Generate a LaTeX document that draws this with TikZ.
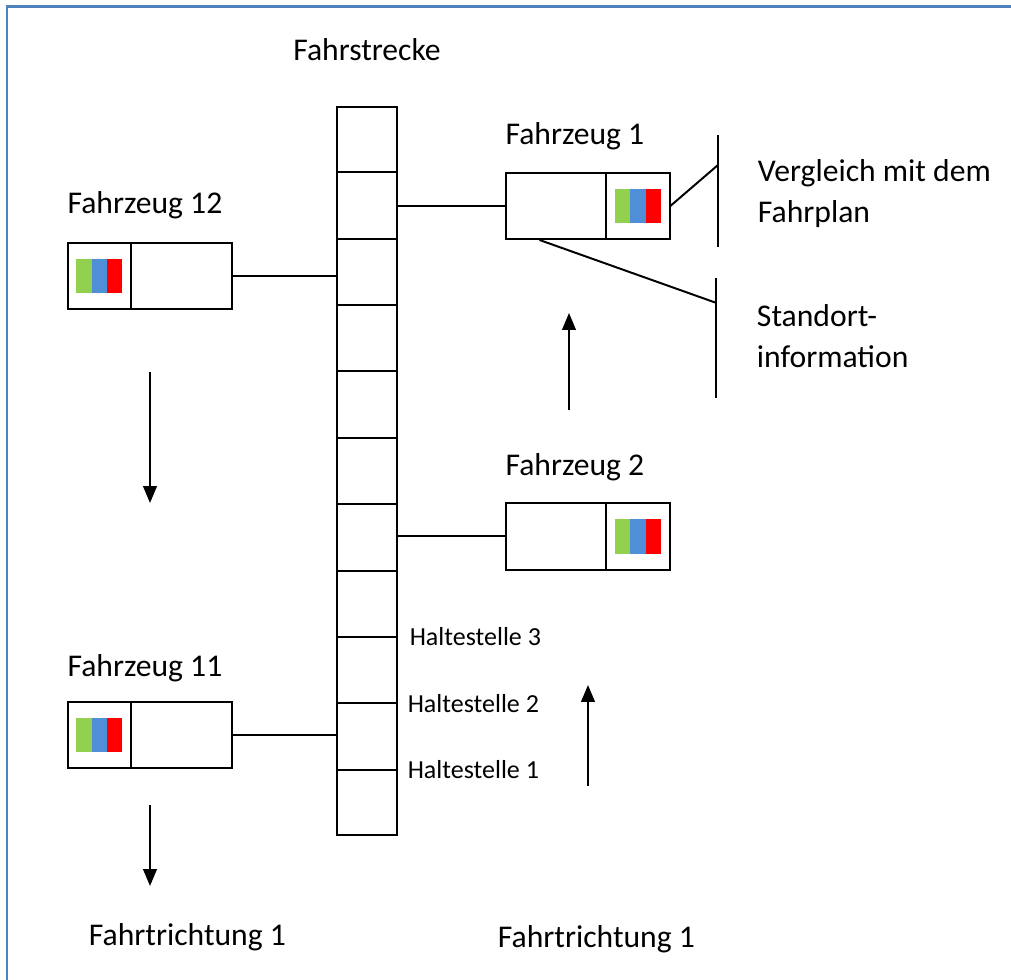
\documentclass[tikz,border=0pt]{standalone}
\usepackage{fontspec}
\setmainfont{Carlito}
\usepackage{xcolor}
\usetikzlibrary{arrows.meta, positioning, calc}
\definecolor{FrameBlue}{HTML}{4F81BD}
\definecolor{ScreenGreen}{HTML}{92D050}
\definecolor{ScreenBlue}{HTML}{4F8FD8}
\definecolor{ScreenRed}{HTML}{FF0000}

\begin{document}
\begin{tikzpicture}[>={Triangle[width=0.34cm,length=0.42cm]}, line width=1.4pt,
    car/.style={draw, minimum width=4.1cm, minimum height=1.66cm, inner sep=0pt},
    screen/.style={draw, minimum width=1.58cm, minimum height=1.66cm, inner sep=0pt},
    lbl/.style={font=\fontsize{22.5}{29.5}\selectfont, inner sep=0pt, align=left},
    stop/.style={font=\fontsize{18.5}{22}\selectfont, inner sep=0pt},
    dir/.style={->, line width=1.3pt}]
        \useasboundingbox (0,0) rectangle (25.275,24.5);
        % Frame
        \draw [FrameBlue, line width=1.6pt] (0.18,0) -- (0.18,24.34) -- (25.275,24.34);
        % Track with cells
        \node [draw, minimum width=1.5cm, minimum height=18.2cm, inner sep=0pt] (track) at (9.175,12.725) {};
        \foreach \i in {1,...,10}
            \draw ($(track.north west)!\i/11!(track.south west)$) coordinate (cw\i)
                -- ($(track.north east)!\i/11!(track.south east)$) coordinate (ce\i);
        \node [lbl, above=1.1cm of track] (route) {Fahrstrecke};
        % Stops
        \node [stop, right=0.27cm of ce8] (h3) {Haltestelle 3};
        \node [stop, right=0.22cm of ce9] (h2) {Haltestelle 2};
        \node [stop, right=0.22cm of ce10] (h1) {Haltestelle 1};
        % Vehicles
        \node [car] (v1) at (14.69,19.355) {};
        \node [car] (v2) at (14.69,11.09) {};
        \node [car] (v12) at (3.74,17.6) {};
        \node [car] (v11) at (3.74,6.12) {};
        \foreach \v/\side in {v1/east, v2/east, v12/west, v11/west}
            \node [screen, anchor=\side] (\v s) at (\v.\side) {};
        \foreach \v in {v1, v2, v12, v11} {
            \fill [ScreenGreen] ($(\v s)+(-0.575,-0.43)$) rectangle ++(0.385,0.86);
            \fill [ScreenBlue] ($(\v s)+(-0.19,-0.43)$) rectangle ++(0.38,0.86);
            \fill [ScreenRed] ($(\v s)+(0.19,-0.43)$) rectangle ++(0.385,0.86);
        }
        \node [lbl, anchor=base west] (t1) at ($(v1.north west)+(0,0.68)$) {Fahrzeug 1};
        \node [lbl, anchor=base west] (t2) at ($(v2.north west)+(0,0.665)$) {Fahrzeug 2};
        \node [lbl, anchor=base west] (t12) at ($(v12.north west)+(0,0.71)$) {Fahrzeug 12};
        \node [lbl, anchor=base west] (t11) at ($(v11.north west)+(0,0.615)$) {Fahrzeug 11};
        % Links to the track
        \draw (v1.west) -- (v1.west -| track.east);
        \draw (v2.west) -- (v2.west -| track.east);
        \draw (v12.east) -- (v12.east -| track.west);
        \draw (v11.east) -- (v11.east -| track.west);
        % Info bars
        \coordinate (b1t) at (17.95,21.125);
        \coordinate (b1b) at (17.95,18.325);
        \coordinate (b1) at (17.95,20.375);
        \coordinate (b2t) at (17.9,17.55);
        \coordinate (b2b) at (17.9,14.55);
        \coordinate (b2) at (17.9,16.93);
        \draw (b1t) -- (b1b);
        \draw (b2t) -- (b2b);
        \draw (v1.east) -- (b1);
        \draw ($(v1.south west)!0.21!(v1.south east)$) -- (b2);
        \node [lbl, anchor=north west] (plan) at (18.925,20.54) {Vergleich mit dem\\Fahrplan};
        \node [lbl, anchor=north west] (pos) at (18.9,16.915) {Standort-\\information};
        % Directions
        \coordinate (d12a) at (3.75,15.2);
        \coordinate (d12b) at (3.75,11.925);
        \coordinate (d11a) at (3.75,4.375);
        \coordinate (d11b) at (3.75,2.35);
        \coordinate (d1a) at (14.225,14.25);
        \coordinate (d1b) at (14.225,16.675);
        \coordinate (d2a) at (14.7,4.85);
        \coordinate (d2b) at (14.7,7.375);
        \draw [dir] (d12a) -- (d12b);
        \draw [dir] (d11a) -- (d11b);
        \draw [dir] (d1a) -- (d1b);
        \draw [dir] (d2a) -- (d2b);
        \node [lbl, anchor=base west] (dirL) at (2.2,0.85) {Fahrtrichtung 1};
        \node [lbl, anchor=base west] (dirR) at (12.425,0.8) {Fahrtrichtung 1};
    \end{tikzpicture}
\end{document}
